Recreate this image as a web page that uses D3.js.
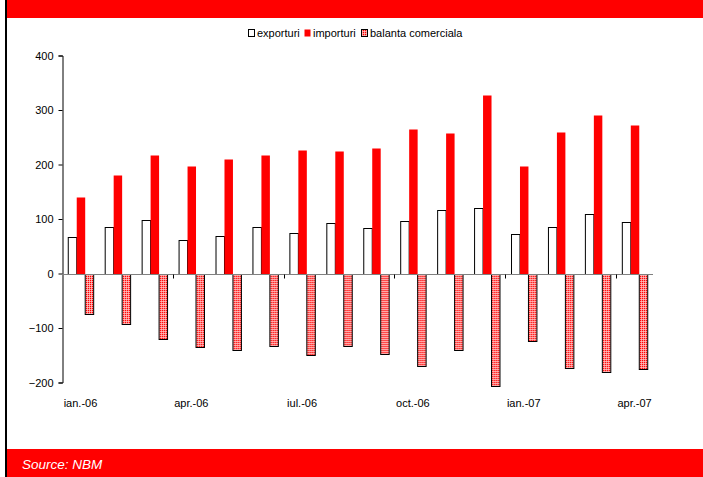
<!DOCTYPE html>
<html>
<head>
<meta charset="utf-8">
<script src="https://cdn.jsdelivr.net/npm/d3@7"></script>
<style>
  html, body { margin: 0; padding: 0; background: #fff; }
  svg { display: block; font-family: "Liberation Sans", Arial, sans-serif; }
</style>
</head>
<body>
<svg id="chart" width="703" height="477"></svg>
<script>
// Monthly trade data, mil. USD
const months = ["ian.-06","feb.-06","mar.-06","apr.-06","mai.-06","iun.-06","iul.-06","aug.-06",
                "sep.-06","oct.-06","nov.-06","dec.-06","ian.-07","feb.-07","mar.-07","apr.-07"];
const exporturi = [67, 86, 98, 62, 69, 86, 75, 92, 84, 97, 116, 121, 73, 86, 110, 95];
const importuri = [141, 180, 218, 198, 210, 218, 226, 225, 231, 266, 258, 328, 197, 260, 290, 272];
const balanta = [-74, -93, -120, -135, -141, -133, -150, -133, -148, -169, -141, -206, -124, -173, -180, -176];
const seriesNames = ["exporturi", "importuri", "balanta comerciala"];
const yTicks = [-200, -100, 0, 100, 200, 300, 400];
const xLabelMonths = ["ian.-06", "apr.-06", "iul.-06", "oct.-06", "ian.-07", "apr.-07"];

const RED = "#ff0000";
const svg = d3.select("#chart");

// Fine grid fill for the trade balance bars
const defs = svg.append("defs");
const pat = defs.append("pattern")
  .attr("id", "grid")
  .attr("patternUnits", "userSpaceOnUse")
  .attr("width", 2).attr("height", 2);
pat.append("rect").attr("width", 2).attr("height", 2).attr("fill", "#ffd0d0");
pat.append("rect").attr("width", 1.3).attr("height", 1.3).attr("fill", RED);

// Frame: left border, header and footer bands
svg.append("rect").attr("x", 7).attr("y", 0).attr("width", 696).attr("height", 18).attr("fill", RED);
svg.append("rect").attr("x", 7).attr("y", 449).attr("width", 696).attr("height", 28).attr("fill", RED);
svg.append("rect").attr("x", 5).attr("y", 0).attr("width", 2).attr("height", 477).attr("fill", "#000");
svg.append("text")
  .attr("x", 22).attr("y", 469)
  .attr("fill", "#fff")
  .attr("font-size", 13.5)
  .attr("font-style", "italic")
  .text("Source: NBM");

// Scales
const x0 = d3.scaleBand().domain(months).range([62, 653]).paddingInner(0).paddingOuter(0);
const x1 = d3.scaleBand().domain(seriesNames).range([0, x0.bandwidth()]).paddingInner(0).paddingOuter(0.68);
const y = d3.scaleLinear().domain([-200, 400]).range([382.5, 55.5]);

// Y axis
const yAxis = d3.axisLeft(y).tickValues(yTicks).tickSize(4).tickPadding(5).tickFormat(d3.format("d"));
const gy = svg.append("g").attr("transform", "translate(62.5,0)").call(yAxis);
gy.select(".domain").attr("stroke", "#000");
gy.selectAll(".tick line").attr("stroke", "#000");
gy.selectAll(".tick text").attr("font-size", 11).attr("fill", "#000")
  .attr("font-family", "'Liberation Sans', Arial, sans-serif");

// Bars
const rows = months.map((m, i) => ({ m, vals: [exporturi[i], importuri[i], balanta[i]] }));
const groups = svg.append("g").selectAll("g").data(rows).join("g")
  .attr("transform", d => `translate(${x0(d.m)},0)`);

groups.selectAll("rect")
  .data(d => d.vals.map((v, k) => ({ v, s: seriesNames[k] })))
  .join("rect")
  .attr("x", d => x1(d.s) + 0.5)
  .attr("width", x1.bandwidth())
  .attr("y", d => Math.round(y(Math.max(0, d.v))) + 0.5)
  .attr("height", d => Math.abs(Math.round(y(d.v)) - Math.round(y(0))))
  .attr("fill", d => d.s === "exporturi" ? "#fff" : d.s === "importuri" ? RED : "url(#grid)")
  .attr("stroke", d => d.s === "importuri" ? "none" : "#000")
  .attr("stroke-width", 1);

// X axis along zero
const xAxisG = svg.append("g");
xAxisG.append("line")
  .attr("x1", 62).attr("x2", 653)
  .attr("y1", Math.round(y(0)) + 0.5).attr("y2", Math.round(y(0)) + 0.5)
  .attr("stroke", "#808080").attr("stroke-width", 1);
const tickIdx = [3, 6, 9, 12, 15];
xAxisG.selectAll("line.t").data(tickIdx).join("line")
  .attr("class", "t")
  .attr("x1", i => Math.round(x0(months[i])) + 0.5)
  .attr("x2", i => Math.round(x0(months[i])) + 0.5)
  .attr("y1", Math.round(y(0)) + 0.5)
  .attr("y2", Math.round(y(0)) + 4.5)
  .attr("stroke", "#000");
xAxisG.selectAll("text").data(xLabelMonths).join("text")
  .attr("x", m => x0(m) + x0.bandwidth() / 2)
  .attr("y", 407)
  .attr("text-anchor", "middle")
  .attr("font-size", 11)
  .attr("fill", "#000")
  .text(m => m);

// Legend
const legend = svg.append("g").attr("font-size", 11);
const legendItems = [
  { name: "exporturi", x: 248, fill: "#fff", stroke: "#000" },
  { name: "importuri", x: 304, fill: RED, stroke: "none" },
  { name: "balanta comerciala", x: 361, fill: "url(#grid)", stroke: "#000" }
];
const li = legend.selectAll("g").data(legendItems).join("g")
  .attr("transform", d => `translate(${d.x},0)`);
li.append("rect")
  .attr("x", 0.5).attr("y", 29.5).attr("width", 6).attr("height", 7)
  .attr("fill", d => d.fill).attr("stroke", d => d.stroke);
li.append("text")
  .attr("x", 9).attr("y", 37)
  .attr("fill", "#000")
  .text(d => d.name);
</script>
</body>
</html>
